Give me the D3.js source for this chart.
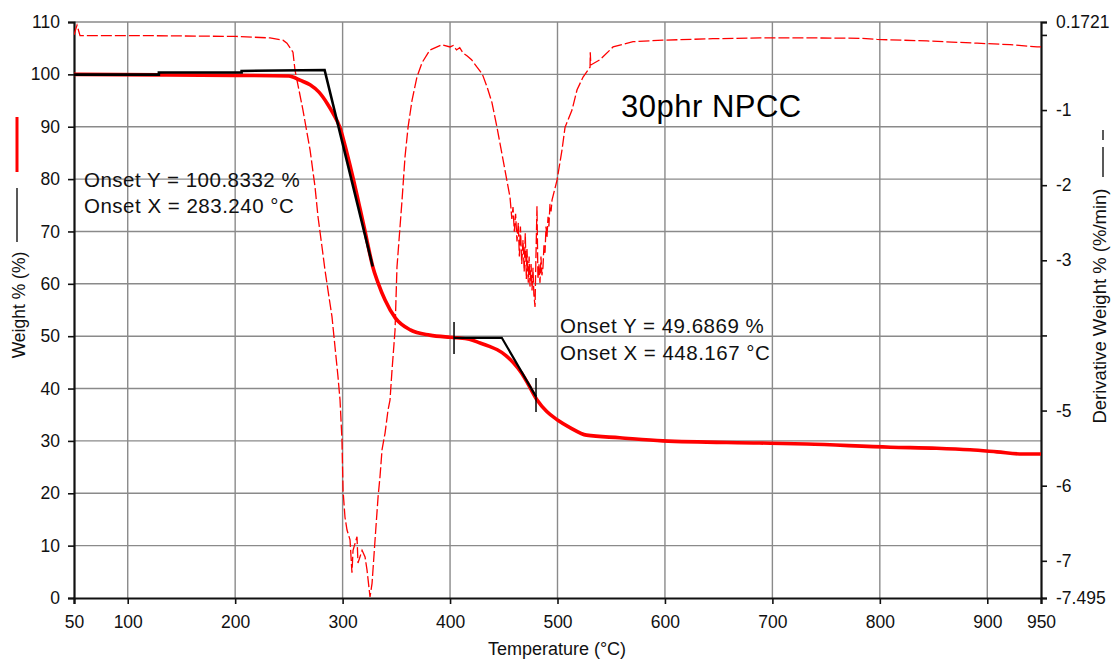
<!DOCTYPE html>
<html>
<head>
<meta charset="utf-8">
<script src="https://cdn.jsdelivr.net/npm/d3@7"></script>
<style>
  html, body { margin: 0; padding: 0; background: #fff; }
  svg { display: block; font-family: "Liberation Sans", Arial, sans-serif; }
</style>
</head>
<body>
<svg id="chart" width="1111" height="659"></svg>
<script>
// ---------------- DATA ----------------
const xTicks = [50, 100, 200, 300, 400, 500, 600, 700, 800, 900, 950];
const xGrid = [100, 200, 300, 400, 500, 600, 700, 800, 900];
const yLeftTicks = [0, 10, 20, 30, 40, 50, 60, 70, 80, 90, 100, 110];
const yRightTicks = [0.1721, 0, -1, -2, -3, -4, -5, -6, -7, -7.495];
const yRightLabels = ["0.1721", "", "-1", "-2", "-3", "", "-5", "-6", "-7", "-7.495"];

// Weight % (TGA) curve: temperature (°C), weight (%)
const tgaTemp = [50, 130, 200, 250, 253.8, 260.3, 269.7, 278, 285.5, 291, 297.6, 304, 310, 315.5, 320.9, 325, 328, 333, 339.5, 349, 363, 381, 400, 406.5, 418, 428, 436, 444, 452, 459, 466, 472, 481, 490, 500, 512, 527, 558, 598, 688, 732, 810, 853, 884, 909, 933, 950];
const tgaWeight = [100.0, 99.9, 99.8, 99.7, 99.5, 98.9, 98.0, 96.6, 94.5, 92.6, 89.8, 85.0, 80.0, 75.0, 70.0, 66.0, 63.3, 60.2, 56.9, 53.5, 51.2, 50.2, 49.8, 49.7, 49.4, 48.7, 48.1, 47.4, 46.3, 44.9, 43.1, 41.1, 37.8, 35.6, 34.0, 32.5, 31.1, 30.6, 30.0, 29.6, 29.4, 28.8, 28.6, 28.3, 27.9, 27.5, 27.5];

// Derivative weight (DTG) curve: temperature (°C), %/min
const dtgTemp = [50, 52.8, 55.6, 120.7, 200.8, 232.4, 244.5, 248.2, 253.8, 255.7, 263.1, 269.7, 274.3, 277.1, 280.8, 283.6, 286.4, 290.1, 292.9, 295.7, 297.6, 299.4, 300.4, 302.2, 304.1, 306.9, 308.7, 309.7, 313.4, 314.3, 318.1, 320.9, 322.7, 325.5, 327.4, 330.2, 333.0, 334.8, 336.7, 339.5, 342.3, 344.1, 346.0, 348.8, 350.6, 355.3, 358.1, 360.9, 364.6, 369.2, 373.9, 381.3, 392.5, 400.0, 403, 406, 409, 412.1, 416, 420, 425.1, 430, 434.4, 439, 443.7, 449.3, 455.8, 457.5, 458.6, 459.8, 461.0, 462.3, 463.5, 464.5, 465.5, 466.7, 467.9, 469.0, 470.0, 471.0, 471.6, 472.8, 473.6, 474.4, 475.4, 476.3, 477.2, 478.0, 479.1, 479.6, 480.9, 481.8, 482.7, 483.7, 484.6, 485.5, 486.5, 487.4, 488.4, 489.3, 490.2, 491.2, 492.0, 493.0, 494.0, 494.9, 499.6, 504.2, 507.0, 513.5, 518.2, 523.8, 530.3, 530.5, 531, 539.6, 551.7, 570.3, 598.2, 644.7, 688.5, 740, 781.6, 797.4, 843.9, 890.5, 921.2, 946.3, 950];
const dtgValue = [0.0, 0.13, -0.01, -0.01, -0.02, -0.04, -0.07, -0.11, -0.23, -0.47, -1.00, -1.53, -2.02, -2.42, -2.82, -3.13, -3.40, -3.75, -4.15, -4.55, -4.86, -5.39, -6.06, -6.42, -6.59, -6.72, -7.16, -6.86, -6.68, -7.03, -6.86, -6.95, -7.12, -7.48, -7.30, -6.72, -6.15, -5.88, -5.52, -5.30, -4.99, -4.86, -4.46, -3.93, -3.09, -2.20, -1.62, -1.23, -0.87, -0.56, -0.37, -0.20, -0.13, -0.16, -0.14, -0.20, -0.17, -0.24, -0.28, -0.33, -0.43, -0.52, -0.69, -0.90, -1.23, -1.66, -2.16, -2.45, -2.29, -2.62, -2.38, -2.75, -2.50, -2.95, -2.55, -3.05, -2.73, -3.15, -2.64, -3.25, -2.85, -3.30, -2.95, -3.35, -3.05, -3.40, -3.10, -3.45, -3.62, -3.20, -2.28, -3.25, -3.05, -3.30, -2.95, -3.20, -3.09, -2.80, -2.90, -2.55, -2.70, -2.42, -2.55, -2.25, -2.35, -2.20, -1.93, -1.53, -1.23, -1.00, -0.73, -0.56, -0.43, -0.23, -0.40, -0.33, -0.16, -0.09, -0.07, -0.05, -0.04, -0.04, -0.045, -0.06, -0.08, -0.11, -0.13, -0.16, -0.16];

// Onset construction lines (°C, weight %)
const onset1Temp = [50, 129, 129, 206, 206, 283.24, 328.0];
const onset1Weight = [99.95, 99.95, 100.35, 100.35, 100.65, 100.8332, 63.3];
const onset2Temp = [403.7, 448.167, 480.0];
const onset2Weight = [49.6869, 49.6869, 38.45];
const onset2MarkTemp = [403.7, 480.0];
const onset2MarkLow = [46.6, 35.5];
const onset2MarkHigh = [52.7, 42.0];

const annoTexts = ["Onset Y = 100.8332 %", "Onset X = 283.240 °C", "Onset Y = 49.6869 %", "Onset X = 448.167 °C"];
const titleText = "30phr NPCC";

// ---------------- LAYOUT ----------------
const L = 74, R = 1041, T = 22, B = 598;
const svg = d3.select("#chart");
const x = d3.scaleLinear().domain([50, 950]).range([L, R]);
const yL = d3.scaleLinear().domain([0, 110]).range([B, T]);
const yR = d3.scaleLinear().domain([-7.495, 0.1721]).range([B, T]);

const gridColor = "#8a8a8a";
// grid
svg.append("g").selectAll("line").data(yLeftTicks.filter(d => d > 0)).join("line")
  .attr("x1", L).attr("x2", R).attr("y1", d => yL(d)).attr("y2", d => yL(d))
  .attr("stroke", gridColor).attr("stroke-width", 1.4);
svg.append("g").selectAll("line").data(xGrid).join("line")
  .attr("y1", T).attr("y2", B).attr("x1", d => x(d)).attr("x2", d => x(d))
  .attr("stroke", gridColor).attr("stroke-width", 1.4);

// axes
const fs = 17.5;
const gx = svg.append("g").attr("transform", `translate(0,${B})`)
  .call(d3.axisBottom(x).tickValues(xTicks).tickFormat(d3.format("d")).tickSizeOuter(0).tickSize(6).tickPadding(12));
const gyl = svg.append("g").attr("transform", `translate(${L},0)`)
  .call(d3.axisLeft(yL).tickValues(yLeftTicks).tickSizeOuter(0).tickSize(6).tickPadding(8));
const gyr = svg.append("g").attr("transform", `translate(${R},0)`)
  .call(d3.axisRight(yR).tickValues(yRightTicks).tickFormat((d, i) => yRightLabels[i]).tickSizeOuter(0).tickSize(6).tickPadding(9));
[gx, gyl, gyr].forEach(g => {
  g.select(".domain").attr("stroke", "#111").attr("stroke-width", 2.2);
  g.selectAll(".tick line").attr("stroke", "#111").attr("stroke-width", 1.6);
  g.selectAll(".tick text").attr("font-size", fs).attr("fill", "#111")
    .attr("font-family", "'Liberation Sans', Arial, sans-serif");
});

// axis titles
svg.append("text").attr("x", 557).attr("y", 655)
  .attr("text-anchor", "middle").attr("font-size", 18).attr("fill", "#111").text("Temperature (°C)");
svg.append("text").attr("transform", "translate(25,305) rotate(-90)")
  .attr("text-anchor", "middle").attr("font-size", 17.5).attr("fill", "#111").text("Weight % (%)");
svg.append("line").attr("x1", 17).attr("x2", 17).attr("y1", 117).attr("y2", 172).attr("stroke", "#ff0000").attr("stroke-width", 3);
svg.append("line").attr("x1", 17).attr("x2", 17).attr("y1", 188).attr("y2", 242).attr("stroke", "#222").attr("stroke-width", 1.5);
svg.append("text").attr("transform", "translate(1106,306) rotate(-90)")
  .attr("text-anchor", "middle").attr("font-size", 18.5).attr("fill", "#111").text("Derivative Weight % (%/min)");
svg.append("line").attr("x1", 1103).attr("x2", 1103).attr("y1", 147).attr("y2", 177).attr("stroke", "#222").attr("stroke-width", 1.5);
svg.append("line").attr("x1", 1103).attr("x2", 1103).attr("y1", 130).attr("y2", 140).attr("stroke", "#222").attr("stroke-width", 1.5);

// clip
svg.append("clipPath").attr("id", "clip").append("rect").attr("x", L).attr("y", T - 4).attr("width", R - L).attr("height", B - T + 4);
const plot = svg.append("g").attr("clip-path", "url(#clip)");

// DTG dashed
const dtgData = dtgTemp.map((t, i) => [t, dtgValue[i]]);
plot.append("path").datum(dtgData)
  .attr("d", d3.line().x(d => x(d[0])).y(d => yR(d[1])))
  .attr("fill", "none").attr("stroke", "#ff0000").attr("stroke-width", 1.3).attr("stroke-dasharray", "11,3");

// TGA solid
const tgaData = tgaTemp.map((t, i) => [t, tgaWeight[i]]);
plot.append("path").datum(tgaData)
  .attr("d", d3.line().x(d => x(d[0])).y(d => yL(d[1])).curve(d3.curveMonotoneX))
  .attr("fill", "none").attr("stroke", "#ff0000").attr("stroke-width", 3.6).attr("stroke-linejoin", "round");

// onset lines
const lineL = d3.line().x(d => x(d[0])).y(d => yL(d[1]));
plot.append("path").datum(onset1Temp.map((t, i) => [t, onset1Weight[i]]))
  .attr("d", lineL).attr("fill", "none").attr("stroke", "#000").attr("stroke-width", 2.6);
plot.append("path").datum(onset2Temp.map((t, i) => [t, onset2Weight[i]]))
  .attr("d", lineL).attr("fill", "none").attr("stroke", "#000").attr("stroke-width", 2.2);
plot.append("g").selectAll("line").data(onset2MarkTemp).join("line")
  .attr("x1", d => x(d)).attr("x2", d => x(d))
  .attr("y1", (d, i) => yL(onset2MarkLow[i])).attr("y2", (d, i) => yL(onset2MarkHigh[i]))
  .attr("stroke", "#000").attr("stroke-width", 1.5);

// annotations
const annoPos = [[84, 187], [84, 213], [560, 333], [560, 360]];
svg.append("g").selectAll("text").data(annoTexts).join("text")
  .attr("x", (d, i) => annoPos[i][0]).attr("y", (d, i) => annoPos[i][1])
  .attr("font-size", 20.5).attr("letter-spacing", 0.5).attr("fill", "#111").text(d => d);
svg.append("text").attr("x", 621).attr("y", 117).attr("font-size", 31).attr("letter-spacing", 0.5).attr("fill", "#000").text(titleText);
</script>
</body>
</html>
